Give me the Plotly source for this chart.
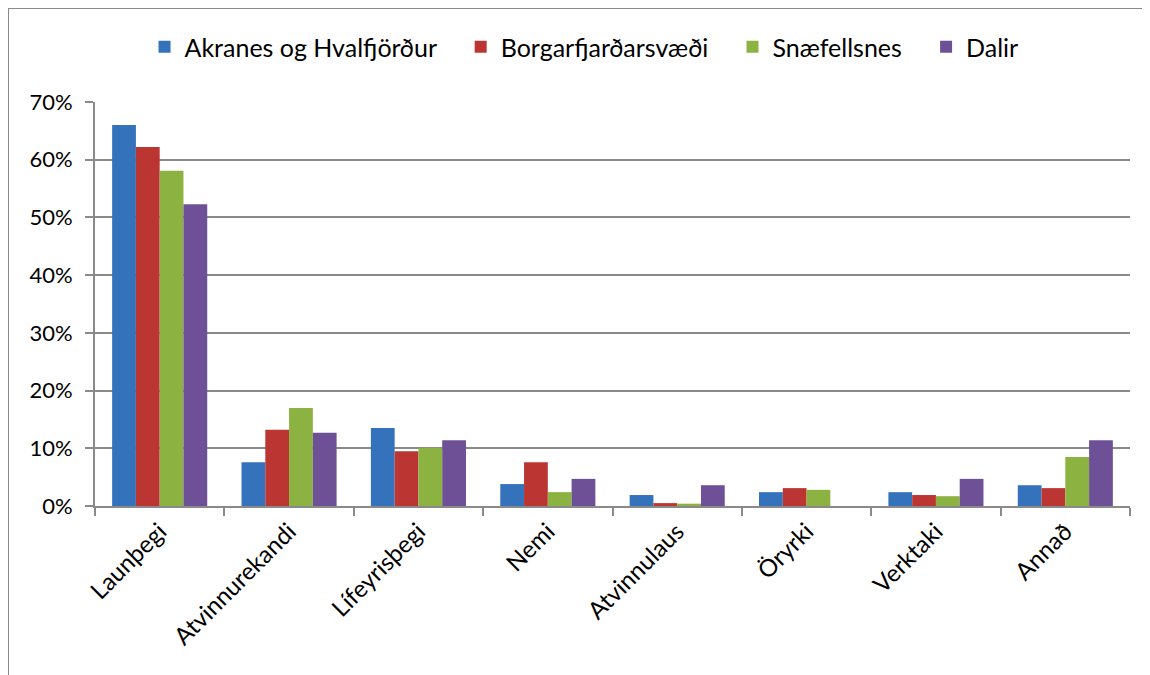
import plotly.graph_objects as go

categories = ["Launþegi", "Atvinnurekandi", "Lífeyrisþegi", "Nemi",
              "Atvinnulaus", "Öryrki", "Verktaki", "Annað"]

akranes = [0.660, 0.076, 0.135, 0.038, 0.019, 0.024, 0.024, 0.036]
borgarfjordur = [0.622, 0.132, 0.095, 0.076, 0.005, 0.031, 0.019, 0.031]
snaefellsnes = [0.581, 0.170, 0.101, 0.024, 0.004, 0.028, 0.017, 0.085]
dalir = [0.523, 0.127, 0.114, 0.047, 0.036, 0.0, 0.047, 0.114]

series = [
    ("Akranes og Hvalfjörður", akranes, "#3572bc"),
    ("Borgarfjarðarsvæði", borgarfjordur, "#bb3633"),
    ("Snæfellsnes", snaefellsnes, "#8cb241"),
    ("Dalir", dalir, "#6e5096"),
]

_GRID = "#8a8a8a"
_FONT = "Lato, 'Open Sans', sans-serif"
_PAD = "\u00a0\u00a0\u00a0"  # wider gaps between legend entries

# plot area in figure pixels
_L, _R, _T, _B = 87, 28, 94, 177
_PW = 1150 - _L - _R
_PH = 675 - _T - _B

fig = go.Figure()
for i, (name, values, color) in enumerate(series):
    fig.add_trace(go.Bar(
        x=categories,
        y=values,
        name=name + (_PAD if i < len(series) - 1 else ""),
        marker={"color": color, "line": {"width": 0}},
    ))

# outer chart frame: only the left and top edges are inside the picture
frame_x = (0 - _L) / _PW
frame_y = 1 + (_T - 0) / _PH
fig.add_shape(type="line", xref="paper", yref="paper",
              x0=frame_x, x1=frame_x, y0=-0.5, y1=frame_y,
              line={"color": "#8a8a8a", "width": 2})
fig.add_shape(type="line", xref="paper", yref="paper",
              x0=frame_x, x1=1.2, y0=frame_y, y1=frame_y,
              line={"color": "#8a8a8a", "width": 2})

fig.update_layout(
    width=1150,
    height=675,
    paper_bgcolor="white",
    plot_bgcolor="white",
    font={"family": _FONT, "size": 22, "color": "black"},
    margin={"l": _L, "r": _R, "t": _T, "b": _B},
    barmode="group",
    bargap=0.265,
    bargroupgap=0,
    showlegend=True,
    legend={
        "orientation": "h",
        "x": 0.4725, "xanchor": "center",
        "y": 1.136, "yanchor": "middle",
        "font": {"size": 25},
        "itemwidth": 30,
        "traceorder": "normal",
    },
    xaxis={
        "tickangle": -45,
        "tickson": "boundaries",
        "ticks": "outside",
        "ticklen": 8,
        "tickwidth": 2,
        "tickcolor": _GRID,
        "showline": True,
        "linecolor": _GRID,
        "linewidth": 2,
        "showgrid": False,
        "tickfont": {"size": 24},
    },
    yaxis={
        "range": [0, 0.7],
        "dtick": 0.1,
        "tickformat": ".0%",
        "ticks": "outside",
        "ticklen": 8,
        "tickwidth": 2,
        "tickcolor": _GRID,
        "ticklabelstandoff": 8,
        "showline": True,
        "linecolor": _GRID,
        "linewidth": 2,
        "showgrid": True,
        "gridcolor": _GRID,
        "gridwidth": 2,
        "zeroline": False,
        "tickfont": {"size": 22},
    },
)

fig.write_html("out.html")
